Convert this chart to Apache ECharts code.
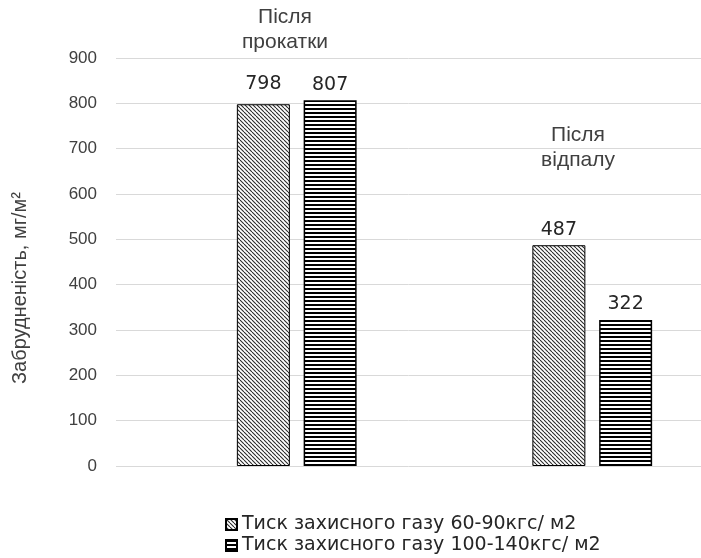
<!DOCTYPE html>
<html>
<head>
<meta charset="utf-8">
<script src="https://cdn.jsdelivr.net/npm/echarts@6/dist/echarts.min.js"></script>
<style>
  html, body { margin: 0; padding: 0; background: #fff; }
  #chart { width: 701px; height: 558px; }
</style>
</head>
<body>
<div id="chart"></div>
<script>
// Data
const categories = ['Після прокатки', 'Після відпалу'];
const seriesNames = ['Тиск захисного газу 60-90кгс/ м2', 'Тиск захисного газу 100-140кгс/ м2'];
const lowPressure = [798, 487];
const highPressure = [807, 322];
const yTicks = [0, 100, 200, 300, 400, 500, 600, 700, 800, 900];
const axisTitle = 'Забрудненість, мг/м²';

// Hatch fills
function diagonalHatch() {
  const c = document.createElement('canvas');
  c.width = 4; c.height = 4;
  const g = c.getContext('2d');
  g.fillStyle = '#fff';
  g.fillRect(0, 0, 4, 4);
  g.strokeStyle = '#2a2a2a';
  g.lineWidth = 1.1;
  for (let k = -4; k <= 4; k += 4) {
    g.beginPath();
    g.moveTo(k, 0);
    g.lineTo(k + 4, 4);
    g.stroke();
  }
  return c;
}
function horizontalHatch() {
  const c = document.createElement('canvas');
  c.width = 4; c.height = 4;
  const g = c.getContext('2d');
  g.fillStyle = '#fff';
  g.fillRect(0, 0, 4, 4);
  g.fillStyle = '#000';
  g.fillRect(0, 0, 4, 2);
  return c;
}

const chart = echarts.init(document.getElementById('chart'), null, { renderer: 'canvas' });
const font = 'Liberation Sans, Arial, sans-serif';
const labelStyle = { show: true, position: 'top', distance: 6, fontSize: 19, color: '#262626', fontFamily: 'DejaVu Sans, sans-serif' };
const legendText = { fontSize: 19, color: '#262626', fontFamily: 'DejaVu Sans, sans-serif' };

chart.setOption({
  animation: false,
  backgroundColor: '#fff',
  grid: [
    { left: 116, right: 0, top: 58, bottom: 92 },
    // the plot area for the bars runs on past the right edge of the canvas
    { left: 149, width: 591, top: 58, bottom: 92, outerBoundsMode: 'none' }
  ],
  xAxis: [
    { gridIndex: 0, type: 'category', data: categories, show: false },
    { gridIndex: 1, type: 'category', data: categories, show: false }
  ],
  yAxis: [
    {
      gridIndex: 0, type: 'value', min: yTicks[0], max: yTicks[yTicks.length - 1], interval: 100,
      axisLine: { show: false }, axisTick: { show: false },
      splitLine: { lineStyle: { color: '#d9d9d9', width: 1 } },
      axisLabel: { margin: 19, fontSize: 17, color: '#404040', fontFamily: font }
    },
    {
      gridIndex: 1, type: 'value', min: yTicks[0], max: yTicks[yTicks.length - 1], interval: 100,
      show: false, splitLine: { show: false }
    }
  ],
  legend: [
    {
      left: 225, top: 515, padding: 0, itemWidth: 11, itemHeight: 11, icon: 'rect',
      textStyle: legendText, data: [seriesNames[0]]
    },
    {
      left: 225, top: 536, padding: 0, itemWidth: 11, itemHeight: 11, icon: 'rect',
      textStyle: legendText, data: [seriesNames[1]]
    }
  ],
  series: [
    {
      name: seriesNames[0], type: 'bar', xAxisIndex: 1, yAxisIndex: 1,
      barWidth: 53, barGap: '26%',
      itemStyle: { color: { image: diagonalHatch(), repeat: 'repeat' }, borderColor: '#000', borderWidth: 1 },
      label: labelStyle,
      data: lowPressure.map((v, i) => i === 0 ? { value: v, label: { offset: [0, -5] } } : v)
    },
    {
      name: seriesNames[1], type: 'bar', xAxisIndex: 1, yAxisIndex: 1,
      barWidth: 53, barGap: '26%',
      itemStyle: { color: { image: horizontalHatch(), repeat: 'repeat' }, borderColor: '#000', borderWidth: 1.5 },
      label: labelStyle,
      data: highPressure
    }
  ],
  graphic: [
    {
      type: 'text', x: 20, y: 288, rotation: Math.PI / 2,
      style: { text: axisTitle, font: '20px ' + font, fill: '#404040', align: 'center', verticalAlign: 'middle' }
    },
    {
      type: 'text', x: 285, y: 30,
      style: { text: 'Після\nпрокатки', font: '21px ' + font, fill: '#404040', align: 'center', verticalAlign: 'middle', lineHeight: 25 }
    },
    {
      type: 'text', x: 578, y: 148,
      style: { text: 'Після\nвідпалу', font: '21px ' + font, fill: '#404040', align: 'center', verticalAlign: 'middle', lineHeight: 25 }
    }
  ]
});
</script>
</body>
</html>
